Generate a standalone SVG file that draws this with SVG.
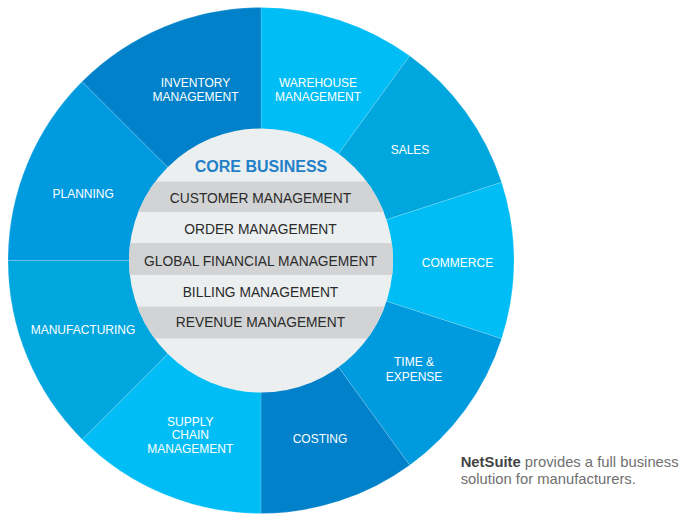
<svg xmlns="http://www.w3.org/2000/svg" width="692" height="525" viewBox="0 0 692 525">
<style>
.seg{stroke:#ffffff;stroke-opacity:0.25;stroke-width:0.6}
.lbl{font-family:"Liberation Sans",Arial,sans-serif;font-size:12px;fill:#ffffff;text-anchor:middle}
.band{fill:#D1D3D4}
.core{font-family:"Liberation Sans",Arial,sans-serif;font-size:13.8px;fill:#2b2b2b;text-anchor:middle}
.title{font-family:"Liberation Sans",Arial,sans-serif;font-size:16px;font-weight:bold;fill:#1F80C8;text-anchor:middle}
.note{font-family:"Liberation Sans",Arial,sans-serif;font-size:14.8px;fill:#707070}
</style>
<defs>
<clipPath id="inner"><circle cx="261" cy="260.5" r="132"/></clipPath>
</defs>
<rect width="692" height="525" fill="#ffffff"/>
<g id="warehouse">
<path class="seg" fill="#00BEF5" d="M261 260.5 L261 7.5 A253 253 0 0 1 409.7 55.8 Z"/>
<text class="lbl" x="318" y="87">WAREHOUSE</text><text class="lbl" x="318" y="101">MANAGEMENT</text>
</g>
<g id="sales">
<path class="seg" fill="#00A7DE" d="M261 260.5 L409.7 55.8 A253 253 0 0 1 501.6 182.3 Z"/>
<text class="lbl" x="410" y="154.3">SALES</text>
</g>
<g id="commerce">
<path class="seg" fill="#00BEF5" d="M261 260.5 L501.6 182.3 A253 253 0 0 1 501.6 338.7 Z"/>
<text class="lbl" x="457.5" y="267">COMMERCE</text>
</g>
<g id="time-expense">
<path class="seg" fill="#009ADF" d="M261 260.5 L501.6 338.7 A253 253 0 0 1 409.7 465.2 Z"/>
<text class="lbl" x="414" y="366">TIME &amp;</text><text class="lbl" x="414" y="381">EXPENSE</text>
</g>
<g id="costing">
<path class="seg" fill="#0081C9" d="M261 260.5 L409.7 465.2 A253 253 0 0 1 261 513.5 Z"/>
<text class="lbl" x="320" y="443.3">COSTING</text>
</g>
<g id="supply-chain">
<path class="seg" fill="#00BEF5" d="M261 260.5 L261 513.5 A253 253 0 0 1 82.1 439.4 Z"/>
<text class="lbl" x="190.3" y="425.7">SUPPLY</text><text class="lbl" x="190.3" y="439.3">CHAIN</text><text class="lbl" x="190.3" y="453">MANAGEMENT</text>
</g>
<g id="manufacturing">
<path class="seg" fill="#00A7DE" d="M261 260.5 L82.1 439.4 A253 253 0 0 1 8 260.5 Z"/>
<text class="lbl" x="83" y="334">MANUFACTURING</text>
</g>
<g id="planning">
<path class="seg" fill="#009ADF" d="M261 260.5 L8 260.5 A253 253 0 0 1 82.1 81.6 Z"/>
<text class="lbl" x="83.2" y="197.7">PLANNING</text>
</g>
<g id="inventory">
<path class="seg" fill="#0081C9" d="M261 260.5 L82.1 81.6 A253 253 0 0 1 261 7.5 Z"/>
<text class="lbl" x="195.5" y="87">INVENTORY</text><text class="lbl" x="195.5" y="100.7">MANAGEMENT</text>
</g>
<g id="core-business">
<circle cx="261" cy="260.5" r="132" fill="#ECEFF0"/>
<g clip-path="url(#inner)">
<rect class="band" x="120" y="181.5" width="282" height="30.5"/>
<rect class="band" x="120" y="243" width="282" height="32"/>
<rect class="band" x="120" y="306.5" width="282" height="32"/>
</g>
<text class="title" x="261" y="172.3">CORE BUSINESS</text>
<text class="core" x="260.5" y="203.3">CUSTOMER MANAGEMENT</text>
<text class="core" x="260.5" y="234.3">ORDER MANAGEMENT</text>
<text class="core" x="260.5" y="265.7">GLOBAL FINANCIAL MANAGEMENT</text>
<text class="core" x="260.5" y="296.7">BILLING MANAGEMENT</text>
<text class="core" x="260.5" y="327.3">REVENUE MANAGEMENT</text>
</g>
<g id="note">
<text class="note" x="460.7" y="466.7"><tspan font-weight="bold" fill="#444444">NetSuite</tspan> provides a full business</text>
<text class="note" x="460.7" y="484.3">solution for manufacturers.</text>
</g>
</svg>
